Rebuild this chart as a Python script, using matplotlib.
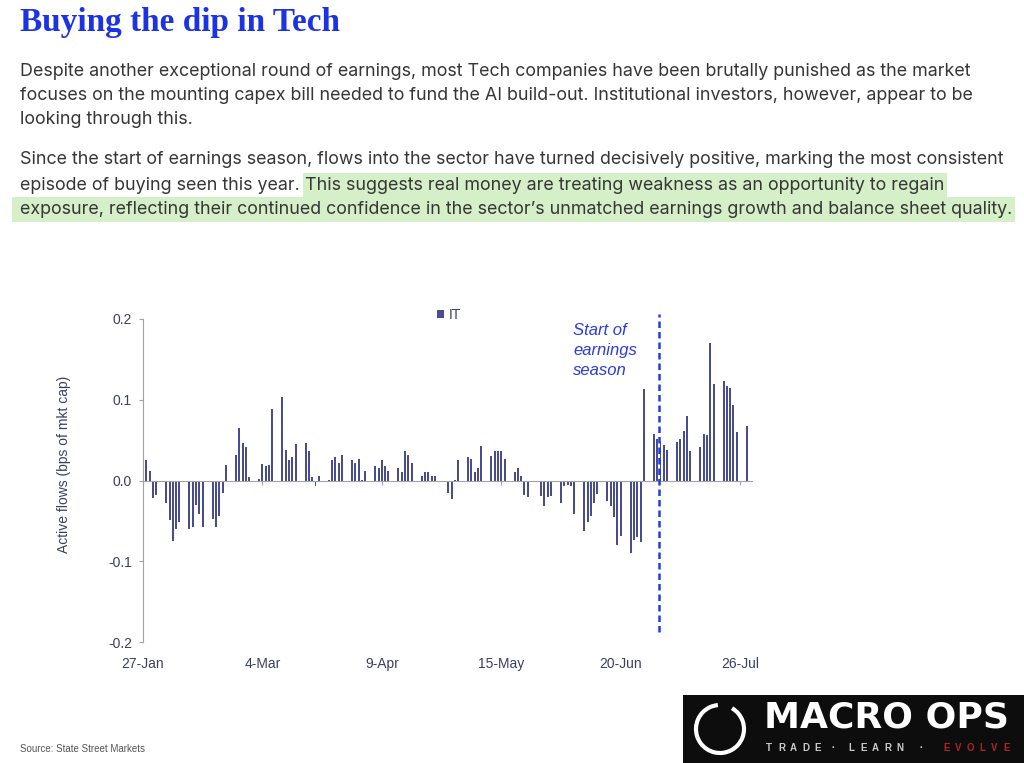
import matplotlib
matplotlib.use("Agg")
import matplotlib.pyplot as plt
from matplotlib.patches import Rectangle, Arc
import pandas as pd

W, H = 1024, 763

# daily active flows into IT (bps of mkt cap), business days from 27-Jan
flows = [
    0.000, 0.025, 0.012, -0.022, -0.018,
    -0.028, -0.049, -0.075, -0.060, -0.051,
    -0.060, -0.057, -0.030, -0.042, -0.057,
    -0.048, -0.058, -0.044, -0.016, 0.019,
    0.031, 0.065, 0.047, 0.042, 0.004,
    0.002, 0.021, 0.018, 0.019, 0.089,
    0.104, 0.038, 0.026, 0.029, 0.045,
    0.046, 0.036, 0.004, -0.007, 0.006,
    0.001, 0.025, 0.029, 0.022, 0.031,
    0.025, 0.022, 0.027, 0.001, 0.012,
    0.018, 0.015, 0.025, 0.018, 0.012,
    0.016, 0.011, 0.036, 0.031, 0.022,
    0.005, 0.010, 0.011, 0.005, 0.005,
    -0.002, -0.015, -0.023, 0.001, 0.026,
    0.029, 0.027, 0.010, 0.016, 0.043,
    0.030, 0.037, 0.037, 0.037, 0.027,
    0.011, 0.015, 0.005, -0.018, -0.020,
    -0.002, -0.019, -0.032, -0.020, -0.019,
    -0.028, -0.007, -0.005, -0.007, -0.042,
    -0.062, -0.051, -0.044, -0.028, -0.017,
    -0.025, -0.032, -0.045, -0.080, -0.069,
    -0.090, -0.074, -0.070, -0.076, 0.113,
    0.058, 0.051, 0.048, 0.044, 0.038,
    0.048, 0.052, 0.061, 0.080, 0.036,
    0.042, 0.058, 0.056, 0.170, 0.120,
    0.123, 0.117, 0.114, 0.093, 0.060,
    0.067,
]
start_date = "2025-01-27"
tick_dates = ["2025-01-27", "2025-03-04", "2025-04-09", "2025-05-15", "2025-06-20", "2025-07-26"]
tick_labels = ["27-Jan", "4-Mar", "9-Apr", "15-May", "20-Jun", "26-Jul"]
y_ticks = [-0.2, -0.1, 0.0, 0.1, 0.2]
y_tick_labels = ["-0.2", "-0.1", "0.0", "0.1", "0.2"]
earnings_start = "2025-07-01 14:00"

title = "Buying the dip in Tech"
para1 = [
    "Despite another exceptional round of earnings, most Tech companies have been brutally punished as the market",
    "focuses on the mounting capex bill needed to fund the AI build-out. Institutional investors, however, appear to be",
    "looking through this.",
]
para2_a = "Since the start of earnings season, flows into the sector have turned decisively positive, marking the most consistent"
para2_b = "episode of buying seen this year."
para2_c = " This suggests real money are treating weakness as an opportunity to regain"
para2_d = "exposure, reflecting their continued confidence in the sector\u2019s unmatched earnings growth and balance sheet quality."

plt.rcParams["font.family"] = ["Liberation Sans", "DejaVu Sans"]
plt.rcParams["axes.unicode_minus"] = False

fig = plt.figure(figsize=(W / 100, H / 100), dpi=100)
renderer = fig.canvas.get_renderer()


def fx(x):
    return x / W


def fy(y):
    return 1 - y / H


# title, fitted to the reference width
t = fig.text(fx(20), fy(23), title, family="Liberation Serif", weight="bold",
             color="#1c33e3", fontsize=24, va="center")
t.set_fontsize(24 * 320 / t.get_window_extent(renderer).width)

# body text
txt_kw = dict(family=["Inter", "DejaVu Sans"], color="#363636", va="center")
first = fig.text(fx(20), fy(71), para1[0], fontsize=12, **txt_kw)
fs = 12 * 952 / first.get_window_extent(renderer).width
first.set_fontsize(fs)
txt_kw["fontsize"] = fs
for line, y in zip(para1[1:], [96, 120]):
    fig.text(fx(20), fy(y), line, **txt_kw)

fig.text(fx(20), fy(160), para2_a, **txt_kw)
tb = fig.text(fx(20), fy(185), para2_b, **txt_kw)
eb = tb.get_window_extent(renderer)
tc = fig.text(eb.x1 / W, fy(185), para2_c, **txt_kw)
td = fig.text(fx(20), fy(209), para2_d, **txt_kw)
ec = tc.get_window_extent(renderer)
ed = td.get_window_extent(renderer)

hl = "#d5efc9"
fig.add_artist(Rectangle((fx(ec.x0 + 3), fy(197)), (ec.x1 - ec.x0) / W, 24 / H,
                         transform=fig.transFigure, color=hl, zorder=0, lw=0))
fig.add_artist(Rectangle((fx(12), fy(222)), (ed.x1 + 3 - 12) / W, 25 / H,
                         transform=fig.transFigure, color=hl, zorder=0, lw=0))

# chart
dates = pd.bdate_range(start_date, periods=len(flows))
navy = "#3a3f66"
grey = "#a3a3a3"
ax = fig.add_axes([fx(143), fy(642), (752 - 143) / W, (642 - 319) / H])
ax.bar(dates, flows, width=0.6, color="#474d8e", zorder=2, label="IT")
ax.set_ylim(-0.2, 0.2)
ax.set_xlim(pd.Timestamp("2025-01-27"), pd.Timestamp("2025-07-29 14:00"))
for s in ["top", "right"]:
    ax.spines[s].set_visible(False)
ax.spines["bottom"].set_position(("data", 0))
ax.spines["bottom"].set_color(grey)
ax.spines["left"].set_color(grey)
ax.set_xticks(pd.to_datetime(tick_dates))
ax.set_xticklabels(tick_labels)
ax.set_yticks(y_ticks)
ax.set_yticklabels(y_tick_labels)
ax.tick_params(axis="x", length=3, color=grey, pad=124, labelsize=10, labelcolor=navy)
ax.tick_params(axis="y", length=3, color=grey, pad=5, labelsize=10, labelcolor=navy)
ax.set_ylabel("Active flows (bps of mkt cap)", fontsize=10, color=navy)
ax.yaxis.set_label_coords(-0.118, 0.55)

ax.legend(loc="center", bbox_to_anchor=((449 - 143) / 609, (642 - 315) / 323),
          frameon=False, handlelength=0.5, handleheight=0.5, handletextpad=0.3,
          fontsize=10, labelcolor=navy)

ax.axvline(pd.Timestamp(earnings_start), ymin=(642 - 632) / 323, ymax=(642 - 314) / 323,
           color="#1f3de6", lw=1.8, linestyle=(0, (2.6, 1.6)), clip_on=False, zorder=3)
ax.text((573 - 143) / 609, (642 - 323) / 323, "Start of\nearnings\nseason",
        transform=ax.transAxes, style="italic", color="#2a3be0", fontsize=12,
        va="top", ha="left", linespacing=1.4)

fig.text(fx(20), fy(749), "Source: State Street Markets", fontsize=7, color="#555555", va="center")

# logo block
lg = fig.add_axes([fx(683), 0, (W - 683) / W, (H - 695) / H])
lg.set_xlim(0, W - 683)
lg.set_ylim(0, H - 695)
lg.set_facecolor("#0d0d0d")
lg.set_xticks([])
lg.set_yticks([])
for s in lg.spines.values():
    s.set_visible(False)
lg.add_patch(Arc((37, 34), 48, 48, theta1=95, theta2=420, color="white", lw=3))
lg.text(81, 46, "MACRO OPS", color="white", fontsize=26, weight="bold",
        family="DejaVu Sans", va="center", ha="left")
for word, x0, col in [("TRADE", 83, "#c9c9c9"), ("\u00b7", 148, "#c9c9c9"),
                      ("LEARN", 165, "#c9c9c9"), ("\u00b7", 236, "#c9c9c9"),
                      ("EVOLVE", 260, "#b3222b")]:
    for i, ch in enumerate(word):
        lg.text(x0 + i * 12, 15, ch, color=col, fontsize=7, weight="bold", va="center", ha="left")

fig.savefig("out.png", dpi=100)
